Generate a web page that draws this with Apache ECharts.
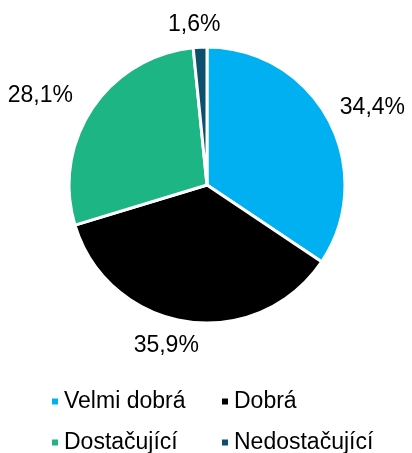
<!DOCTYPE html>
<html>
<head>
<meta charset="utf-8">
<script src="https://cdn.jsdelivr.net/npm/echarts@6/dist/echarts.min.js"></script>
<style>
html, body { margin: 0; padding: 0; background: #fff; }
#chart { width: 412px; height: 453px; }
</style>
</head>
<body>
<div id="chart"></div>
<script>
// categories and shares (%)
const categories = ['Velmi dobrá', 'Dobrá', 'Dostačující', 'Nedostačující'];
const shares = [34.4, 35.9, 28.1, 1.6];
const colors = ['#00B0F0', '#000000', '#1DB584', '#0E4F6E'];

const fontFamily = '"Liberation Sans", Arial, sans-serif';
const center = [207, 185];

// small nudges so the value labels sit where the original ones do
const labelNudge = [
    [11, 5],
    [-15, -12],
    [-21, 8],
    [-4, 14]
];
// legend grid: 2 columns x 2 rows
const legendLeft = [45, 215, 45, 215];
const legendTop = [385, 385, 426, 426];

function fmt(v) {
    return v.toFixed(1).replace('.', ',') + '%';
}

const pieData = categories.map((name, i) => {
    return { name: name, value: shares[i], itemStyle: { color: colors[i] } };
});

const legends = categories.map((name, i) => {
    return {
        left: legendLeft[i],
        top: legendTop[i],
        itemWidth: 8,
        itemHeight: 8,
        icon: 'rect',
        textStyle: { fontSize: 23, color: '#000', fontFamily: fontFamily },
        data: [name]
    };
});

const chart = echarts.init(document.getElementById('chart'));
chart.setOption({
    animation: false,
    color: colors,
    legend: legends,
    series: [
        {
            type: 'pie',
            center: center,
            radius: [0, 138],
            startAngle: 90,
            clockwise: true,
            silent: true,
            itemStyle: { borderColor: '#fff', borderWidth: 3 },
            label: { show: false },
            labelLine: { show: false },
            data: pieData
        },
        {
            // transparent ring, only places the value labels outside the pie
            type: 'pie',
            center: center,
            radius: [0, 344],
            startAngle: 90,
            clockwise: true,
            silent: true,
            itemStyle: { color: 'rgba(0,0,0,0)', borderWidth: 0 },
            label: {
                show: true,
                position: 'inside',
                fontSize: 23,
                color: '#000',
                fontFamily: fontFamily,
                formatter: p => fmt(p.value)
            },
            labelLine: { show: false },
            labelLayout: params => {
                const n = labelNudge[params.dataIndex];
                return { dx: n[0], dy: n[1] };
            },
            data: pieData.map(d => ({ name: d.name, value: d.value }))
        }
    ]
});
</script>
</body>
</html>
